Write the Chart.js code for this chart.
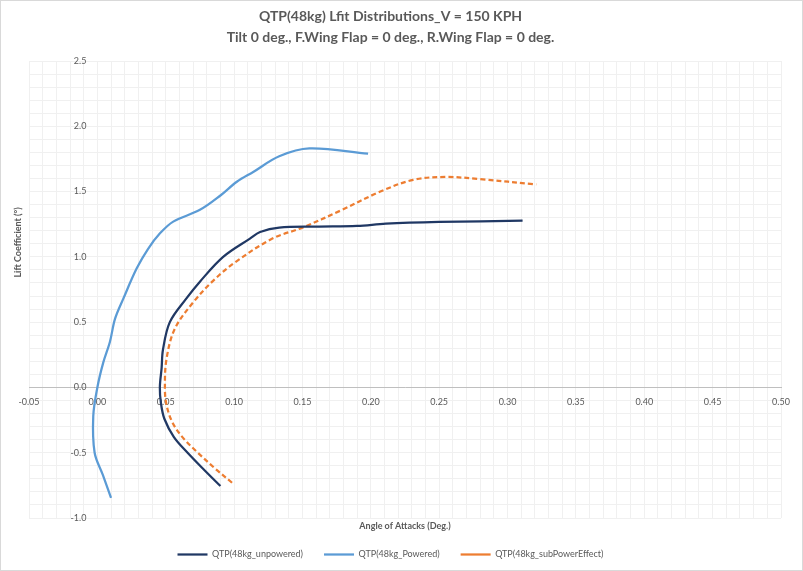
<!DOCTYPE html>
<html>
<head>
<meta charset="utf-8">
<script src="https://cdn.jsdelivr.net/npm/chart.js@4/dist/chart.umd.min.js"></script>
<style>
  html, body { margin: 0; padding: 0; background: #fff; }
  #wrap { width: 803px; height: 571px; position: relative; }
</style>
</head>
<body>
<div id="wrap"><canvas id="chart" width="803" height="571"></canvas></div>
<script>
const titleLines = [
  "QTP(48kg) Lfit Distributions_V = 150 KPH",
  "Tilt 0 deg., F.Wing Flap = 0 deg., R.Wing Flap = 0 deg."
];
const xTitle = "Angle of Attacks (Deg.)";
const yTitle = "Lift Coefficient (°)";
const seriesNames = ["QTP(48kg_unpowered)", "QTP(48kg_Powered)", "QTP(48kg_subPowerEffect)"];

const unpoweredX = [0.090, 0.078, 0.066, 0.056, 0.049, 0.0465, 0.0457, 0.047, 0.048, 0.053, 0.065, 0.075, 0.092, 0.1116, 0.119, 0.133, 0.160, 0.190, 0.211, 0.250, 0.311];
const unpoweredY = [-0.755, -0.63, -0.50, -0.38, -0.24, -0.12, 0.00, 0.15, 0.29, 0.50, 0.68, 0.81, 1.00, 1.14, 1.19, 1.224, 1.232, 1.237, 1.254, 1.267, 1.277];

const poweredX = [0.010, 0.004, -0.002, -0.003, 0.000, 0.0043, 0.0092, 0.0129, 0.019, 0.0287, 0.037, 0.0458, 0.0555, 0.075, 0.090, 0.102, 0.114, 0.133, 0.155, 0.198];
const poweredY = [-0.845, -0.67, -0.50, -0.22, 0.00, 0.19, 0.35, 0.525, 0.68, 0.91, 1.06, 1.18, 1.27, 1.36, 1.47, 1.575, 1.65, 1.77, 1.83, 1.79];

const subPowerX = [0.0985, 0.086, 0.0735, 0.063, 0.055, 0.0505, 0.0494, 0.0506, 0.0567, 0.070, 0.085, 0.101, 0.128, 0.150, 0.178, 0.207, 0.231, 0.255, 0.280, 0.321];
const subPowerY = [-0.73, -0.62, -0.50, -0.39, -0.27, -0.13, 0.00, 0.22, 0.45, 0.65, 0.82, 0.96, 1.14, 1.224, 1.355, 1.50, 1.59, 1.612, 1.595, 1.555];

const xMin = -0.05, xMax = 0.50, xStep = 0.05, xMinorStep = 0.01;
const yMin = -1.0, yMax = 2.5, yStep = 0.5, yMinorStep = 0.1;
// the value labels of the vertical axis sit a little left of x = 0
const yLabelAt = -0.008;

const FONT = 'Lato, "Liberation Sans", sans-serif';
const GREY = '#595959';

function toPoints(xs, ys) {
  return xs.map((x, i) => ({ x: x, y: ys[i] }));
}

// light frame round the whole chart, plus the vertical axis title
const decorations = {
  id: 'decorations',
  afterDraw(chart) {
    const ctx = chart.ctx;
    const area = chart.chartArea;
    ctx.save();
    ctx.strokeStyle = '#d9d9d9';
    ctx.lineWidth = 1;
    ctx.strokeRect(0.5, 0.5, chart.width - 1, chart.height - 1);
    ctx.translate(18, area.top + (area.bottom - area.top) * 0.397);
    ctx.rotate(-Math.PI / 2);
    ctx.fillStyle = GREY;
    ctx.font = 'bold 9px ' + FONT;
    ctx.textAlign = 'center';
    ctx.textBaseline = 'middle';
    ctx.fillText(yTitle, 0, 0);
    ctx.restore();
  }
};

new Chart(document.getElementById('chart').getContext('2d'), {
  type: 'scatter',
  data: {
    datasets: [
      {
        label: seriesNames[0],
        data: toPoints(unpoweredX, unpoweredY),
        borderColor: '#203864',
        backgroundColor: '#203864',
        borderWidth: 2.25,
        showLine: true,
        tension: 0.35,
        pointRadius: 0
      },
      {
        label: seriesNames[1],
        data: toPoints(poweredX, poweredY),
        borderColor: '#5b9bd5',
        backgroundColor: '#5b9bd5',
        borderWidth: 2.25,
        showLine: true,
        tension: 0.35,
        pointRadius: 0
      },
      {
        label: seriesNames[2],
        data: toPoints(subPowerX, subPowerY),
        borderColor: '#ed7d31',
        backgroundColor: '#ed7d31',
        borderWidth: 2.25,
        borderDash: [5, 3],
        showLine: true,
        tension: 0.35,
        pointRadius: 0
      }
    ]
  },
  options: {
    responsive: false,
    animation: false,
    layout: { padding: { left: 0, right: 22, top: 0, bottom: 2 } },
    plugins: {
      title: {
        display: true,
        text: titleLines,
        color: GREY,
        font: { family: FONT, size: 14, weight: 'bold', lineHeight: 1.5 },
        padding: { top: 6, bottom: 13 }
      },
      legend: {
        position: 'bottom',
        labels: {
          color: GREY,
          font: { family: FONT, size: 9 },
          usePointStyle: true,
          pointStyle: 'line',
          pointStyleWidth: 30,
          boxWidth: 30,
          boxHeight: 6,
          padding: 21
        }
      },
      tooltip: { enabled: false }
    },
    scales: {
      x: {
        type: 'linear',
        position: { y: 0 },
        min: xMin,
        max: xMax,
        ticks: {
          stepSize: xStep,
          color: GREY,
          font: { family: FONT, size: 9 },
          callback: v => v.toFixed(2),
          maxRotation: 0,
          padding: 6
        },
        grid: {
          color: c => (c.tick && Math.abs(c.tick.value) < 1e-9 ? '#bfbfbf' : '#d9d9d9'),
          tickLength: 3
        },
        border: { color: '#bfbfbf' }
      },
      xMinor: {
        type: 'linear',
        position: 'bottom',
        min: xMin,
        max: xMax,
        afterFit: s => { s.height = 11; },
        ticks: { display: false, stepSize: xMinorStep },
        grid: { color: '#f0f0f0', drawTicks: false },
        border: { display: false },
        title: {
          display: true,
          text: xTitle,
          color: GREY,
          font: { family: FONT, size: 9, weight: 'bold' },
          padding: { top: 0, bottom: -2 }
        }
      },
      y: {
        type: 'linear',
        position: { x: yLabelAt },
        min: yMin,
        max: yMax,
        ticks: {
          stepSize: yStep,
          color: GREY,
          font: { family: FONT, size: 9 },
          callback: v => v.toFixed(1)
        },
        grid: { color: '#d9d9d9', tickLength: 0 },
        border: { display: false }
      },
      yMinor: {
        type: 'linear',
        position: 'left',
        min: yMin,
        max: yMax,
        afterFit: s => { s.width = 29; },
        ticks: { display: false, stepSize: yMinorStep },
        grid: { color: '#f0f0f0', drawTicks: false },
        border: { display: false }
      }
    }
  },
  plugins: [decorations]
});
</script>
</body>
</html>
